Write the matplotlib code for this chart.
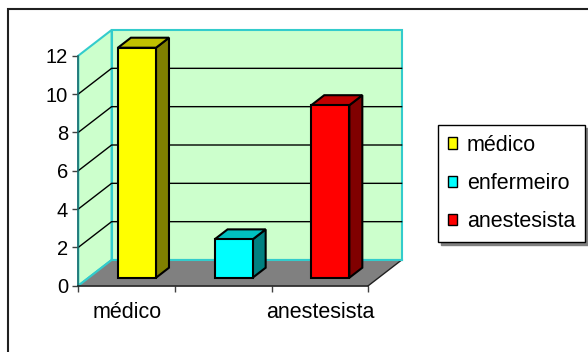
import matplotlib
matplotlib.use('Agg')
import matplotlib.pyplot as plt
from matplotlib.patches import Polygon, Patch, Rectangle

plt.rcParams['font.family'] = ['Liberation Sans', 'DejaVu Sans']

categories = ['médico', 'enfermeiro', 'anestesista']
values = [12, 2, 9]
front_colors = ['#FFFF00', '#00FFFF', '#FF0000']
side_colors = ['#808000', '#008080', '#800000']
top_colors = ['#C0C000', '#00C0C0', '#C00000']
x_labels = ['médico', '', 'anestesista']
y_ticks = [0, 2, 4, 6, 8, 10, 12]

W, H = 588, 352
fig = plt.figure(figsize=(W / 100, H / 100), dpi=100)
ax = fig.add_axes([78.3 / W, 1 - 285.7 / H, 290 / W, 230 / H])
ax.set_xlim(-0.5, 2.5)
ax.set_ylim(0, 12)
ax.patch.set_visible(False)

# fake 3d depth (data units for full depth)
DX = 33.3 / (290 / 3)
DY = 25.7 / (230 / 12)


def proj(x, y, z):
    return (x + z * DX, y + z * DY)


def poly(pts, **kw):
    ax.add_patch(Polygon(pts, closed=True, clip_on=False, **kw))


wall = '#CCFFCC'
edge = '#33CCCC'
x0, x1 = -0.5, 2.5
ytop = 12
# back wall and left wall
poly([proj(x0, 0, 1), proj(x1, 0, 1), proj(x1, ytop, 1), proj(x0, ytop, 1)],
     facecolor=wall, edgecolor=edge, lw=1.5, zorder=1)
poly([proj(x0, 0, 0), proj(x0, 0, 1), proj(x0, ytop, 1), proj(x0, ytop, 0)],
     facecolor=wall, edgecolor=edge, lw=1.5, zorder=1)
# floor
poly([proj(x0, 0, 0), proj(x1, 0, 0), proj(x1, 0, 1), proj(x0, 0, 1)],
     facecolor='#808080', edgecolor='none', zorder=1.5)
fx, fy = zip(proj(x1, 0, 0), proj(x1, 0, 1))
ax.plot(fx, fy, color='#202020', lw=1, clip_on=False, zorder=1.6)
fx, fy = zip(proj(x0, 0, 1), proj(x1, 0, 1))
ax.plot(fx, fy, color=edge, lw=1.5, clip_on=False, zorder=1.6)
fx, fy = zip(proj(x0, 0, 0), proj(x0, 0, 1))
ax.plot(fx, fy, color=edge, lw=1.5, clip_on=False, zorder=1.6)

# gridlines on walls
for v in y_ticks[1:-1]:
    gx, gy = zip(proj(x0, v, 0), proj(x0, v, 1), proj(x1, v, 1))
    ax.plot(gx, gy, color='black', lw=1, clip_on=False, zorder=2)

# bars
bw = 0.197
z0, z1 = 0.31, 0.70
for i, v in enumerate(values):
    l, r = i - bw, i + bw
    front = [proj(l, 0, z0), proj(r, 0, z0), proj(r, v, z0), proj(l, v, z0)]
    side = [proj(r, 0, z0), proj(r, 0, z1), proj(r, v, z1), proj(r, v, z0)]
    top = [proj(l, v, z0), proj(r, v, z0), proj(r, v, z1), proj(l, v, z1)]
    poly(side, facecolor=side_colors[i], edgecolor='black', lw=1.5, zorder=3)
    poly(top, facecolor=top_colors[i], edgecolor='black', lw=1.5, zorder=3)
    poly(front, facecolor=front_colors[i], edgecolor='black', lw=1.5, zorder=3)

# axes
for s in ['top', 'right']:
    ax.spines[s].set_visible(False)
ax.spines['left'].set_color('#1f6f6f')
ax.spines['left'].set_linewidth(1.2)
ax.spines['bottom'].set_color('#202020')
ax.spines['bottom'].set_linewidth(1.2)
for s in ['left', 'bottom']:
    ax.spines[s].set_zorder(4)

ax.set_yticks(y_ticks)
ax.tick_params(axis='y', length=4, width=1, color='#404040', pad=3.5,
               labelsize=14.5)
ax.set_xticks([-0.5, 0.5, 1.5, 2.5])
ax.set_xticklabels([])
ax.set_xticks([0, 1, 2], minor=True)
ax.set_xticklabels(x_labels, minor=True)
ax.tick_params(axis='x', which='major', length=4.5, width=1, color='#404040')
ax.tick_params(axis='x', which='minor', length=0, pad=12, labelsize=15.5)

# legend
handles = [Patch(facecolor=c, edgecolor='black', lw=1) for c in front_colors]
leg = fig.legend(handles, categories, loc='upper left',
                 bbox_to_anchor=(438.3 / W, 1 - 125 / H), borderaxespad=0,
                 fontsize=15.5, frameon=True, fancybox=False,
                 handlelength=0.43, handleheight=0.43, handletextpad=0.45,
                 labelspacing=0.8, borderpad=0.45,
                 shadow={'color': '#808080', 'alpha': 1})
leg.get_frame().set_edgecolor('black')
leg.get_frame().set_linewidth(1)

# outer chart border
fig.patches.append(Rectangle((8 / W, -0.1), 1.2, 1 - 9 / H + 0.1,
                             transform=fig.transFigure, fill=False,
                             edgecolor='#202020', lw=1.5))

fig.savefig('out.png', dpi=100)
